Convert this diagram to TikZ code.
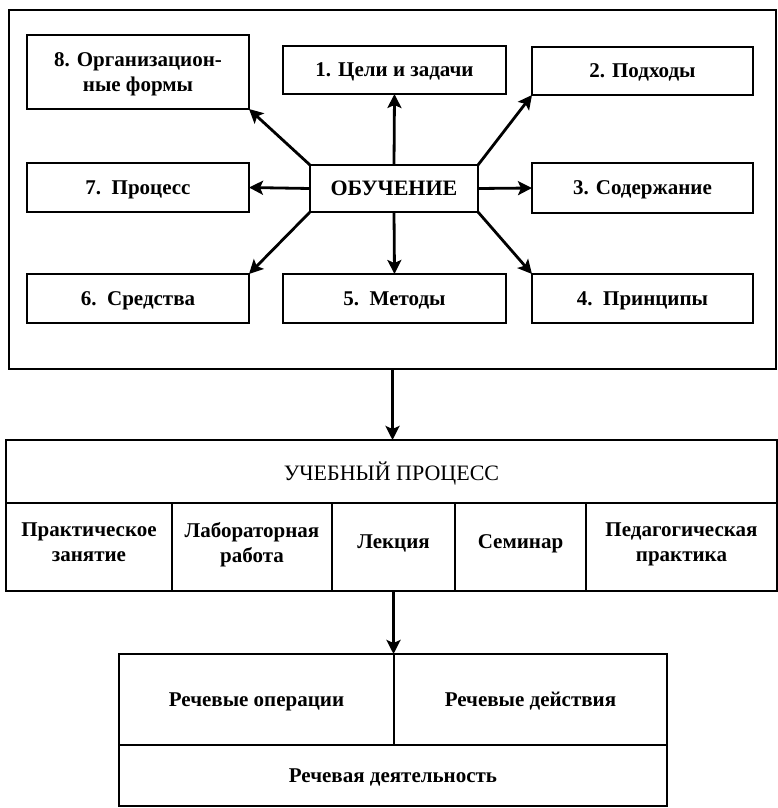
\documentclass[tikz,border=0pt]{standalone}
\usepackage{fontspec}
\setmainfont{Liberation Serif}
\usetikzlibrary{arrows.meta}
\begin{document}
\begin{tikzpicture}[x=1pt,y=-1pt,
  every node/.style={inner sep=0pt, outer sep=0pt, text depth=0pt, font=\fontsize{21}{25}\selectfont\bfseries, align=center},
  bx/.style={draw, line width=2.8pt},
  cell/.style={bx, text depth=10pt},
  arr/.style={line width=2.8pt, -{Stealth[length=14pt,width=14pt,inset=3pt]}}]
\useasboundingbox (0,0) rectangle (777,808);
% top frame
\node[bx, minimum width=767pt, minimum height=359pt] (outer) at (392.5,189.5) {};
\node[bx, minimum width=222pt, minimum height=74pt] (b8) at (138,72) {8. Организацион-\\ные формы};
\node[bx, minimum width=223pt, minimum height=48pt] (b1) at (394.5,70) {1. Цели и задачи};
\node[bx, minimum width=221pt, minimum height=48pt] (b2) at (642.5,71) {2. Подходы};
\node[bx, minimum width=168pt, minimum height=47pt, font=\fontsize{22}{25}\selectfont\bfseries] (c) at (394,188.5) {ОБУЧЕНИЕ};
\node[bx, minimum width=222pt, minimum height=49pt] (b7) at (138,187.5) {7.\ \ Процесс};
\node[bx, minimum width=221pt, minimum height=50pt] (b3) at (642.5,188) {3. Содержание};
\node[bx, minimum width=222pt, minimum height=49pt] (b6) at (138,298.5) {6.\ \ Средства};
\node[bx, minimum width=223pt, minimum height=49pt] (b5) at (394.5,298.5) {5.\ \ Методы};
\node[bx, minimum width=221pt, minimum height=49pt] (b4) at (642.5,298.5) {4.\ \ Принципы};
\draw[arr] (c.north west) -- (b8.south east);
\draw[arr] (c.north) -- (b1.south);
\draw[arr] (c.north east) -- (b2.south west);
\draw[arr] (c.west) -- (b7.east);
\draw[arr] (c.east) -- (b3.west);
\draw[arr] (c.south west) -- (b6.north east);
\draw[arr] (c.south) -- (b5.north);
\draw[arr] (c.south east) -- (b4.north west);
% middle table
\node[bx, minimum width=771pt, minimum height=63pt, font=\fontsize{22}{25}\selectfont] (up) at (391.5,471.5) {УЧЕБНЫЙ ПРОЦЕСС};
\node[cell, minimum width=166pt, minimum height=88pt] (m1) at (89,547) {Практическое\\занятие};
\node[cell, minimum width=160pt, minimum height=88pt] (m2) at (252,547) {Лабораторная\\работа};
\node[cell, minimum width=123pt, minimum height=88pt] (m3) at (393.5,547) {Лекция};
\node[cell, minimum width=131pt, minimum height=88pt] (m4) at (520.5,547) {Семинар};
\node[cell, minimum width=191pt, minimum height=88pt] (m5) at (681.5,547) {Педагогическая\\практика};
\draw[arr] (outer.south) -- (outer.south |- up.north);
% bottom table
\node[bx, minimum width=275pt, minimum height=91pt] (r1) at (256.5,699.5) {Речевые операции};
\node[bx, minimum width=273pt, minimum height=91pt] (r2) at (530.5,699.5) {Речевые действия};
\node[bx, minimum width=548pt, minimum height=61pt] (r3) at (393,775.5) {Речевая деятельность};
\draw[arr] (m3.south) -- (m3.south |- r1.north);
\end{tikzpicture}
\end{document}
